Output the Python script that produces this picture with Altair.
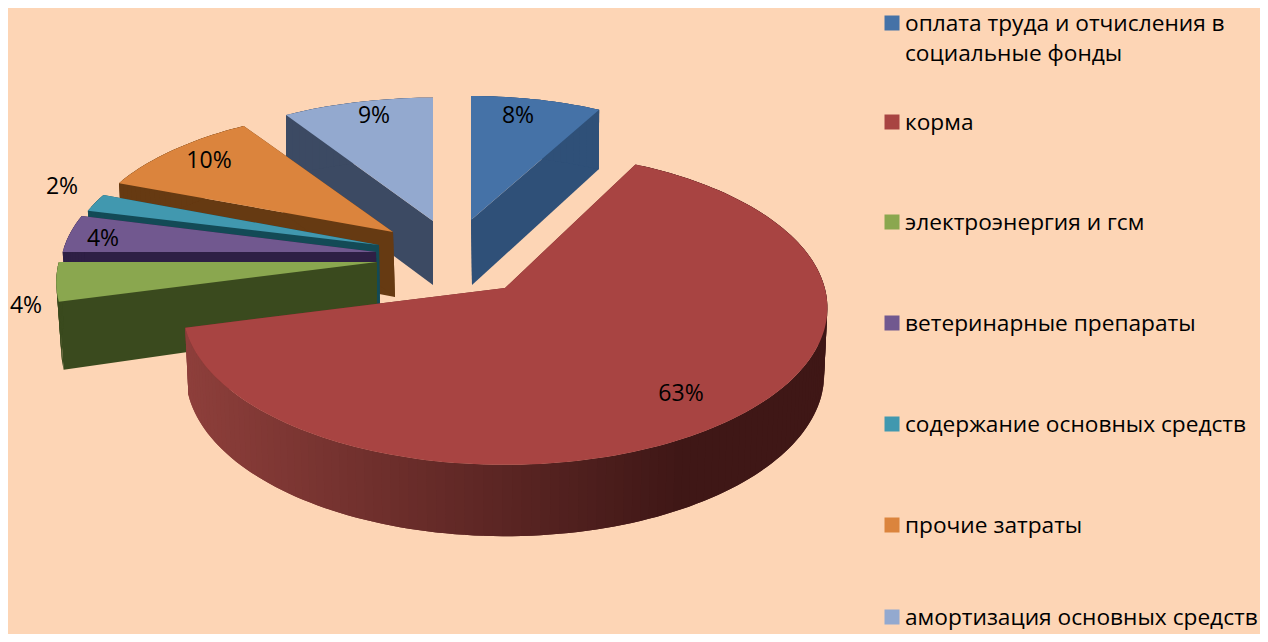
import math
import altair as alt
import pandas as pd

# ---- data ----
CATEGORIES = ["оплата труда и отчисления в\nсоциальные фонды", "корма", "электроэнергия и гсм",
              "ветеринарные препараты", "содержание основных средств", "прочие затраты",
              "амортизация основных средств"]
SHARES = [8, 63, 4, 4, 2, 10, 9]
TOP_COLORS = ["#4572a7", "#a84442", "#8aa74f", "#71588f", "#4198af", "#db843d", "#93a9cf"]
FACE_COLORS = ["#2f5078", "#6b2a29", "#3a4a1e", "#2e1f45", "#134a56", "#663a12", "#3c4a63"]

# ---- layout ----
W, H = 1252, 626
BG = "#fdd5b5"
FONT = "Open Sans"
RX, RY, P = 323.0, 154.4, 0.127
# top apex x,y, top scale x,y, bottom apex x,y, bottom scale x,y
GEOM = [
    (471, 220, .915, .905, 472, 285, .905, .95),
    (505, 288, .99, 1.0, 505, 354, .98, 1.03),
    (377, 262, .985, 1.0, 377, 325, .97, 1.13),
    (376, 252, .97, .97, 377, 316, .96, 1.0),
    (379, 245, .96, .92, 380, 310, .95, .95),
    (393, 232, .955, .90, 395, 297, .95, .95),
    (433, 221, .94, .90, 433, 285, .94, .925),
]
START_TWEAK = [0, -1.8, 0, 0, 0, 0, 0]
LABEL_OFFSET = [(47, -104), (176, 106), (-351, 44), (-273, -13), (-317, -58), (-184, -71), (-59, -105)]
LEGEND_Y = [24, 123, 223, 324, 425, 526, 618]
LEGEND_LINE = 30


def pt(a_deg, ax, ay, sx, sy):
    a = math.radians(a_deg)
    u, v = math.sin(a), math.cos(a)
    d = 1 + P * v
    return [ax + sx * RX * u / d, ay - sy * RY * v / d]


def mix(c1, c2, t):
    a = [int(c1[i:i + 2], 16) for i in (1, 3, 5)]
    b = [int(c2[i:i + 2], 16) for i in (1, 3, 5)]
    return "#%02x%02x%02x" % tuple(round(a[i] + (b[i] - a[i]) * t) for i in range(3))


def feature(points, color):
    return {"type": "Feature",
            "geometry": {"type": "Polygon", "coordinates": [points + [points[0]]]},
            "properties": {"fill": color}}


features = []
labels = []
angles = []
cum = 0
for s in SHARES:
    angles.append((cum * 3.6, (cum + s) * 3.6))
    cum += s

DRAW_ORDER = [0, 6, 5, 4, 3, 2, 1]
for i in DRAW_ORDER:
    ax, ay, sx, sy, bx, by, bsx, bsy = GEOM[i]
    a0, a1 = angles[i]
    a0 += START_TWEAK[i]
    for a in (a0, a1):
        features.append(feature([[ax, ay], pt(a, ax, ay, sx, sy), pt(a, bx, by, bsx, bsy), [bx, by]],
                                FACE_COLORS[i]))
    n = max(4, int((a1 - a0) / 1.5))
    steps = [a0 + (a1 - a0) * k / n for k in range(n + 1)]
    top = [[ax, ay]] + [pt(a, ax, ay, sx, sy) for a in steps]
    for k in range(n):
        p0 = pt(steps[k], ax, ay, sx, sy)
        upper = [pt(a, ax, ay, sx, sy) for a in steps[k:min(k + 3, n + 1)]]
        lower = [pt(a, bx, by, bsx, bsy) for a in steps[k:min(k + 3, n + 1)]]
        if i == 1:
            t = max(0.0, min(1.0, (p0[0] - 185) / 500))
            col = mix("#8e3f3b", "#3f1716", t)
        else:
            col = FACE_COLORS[i]
        features.append(feature(upper + lower[::-1], col))
    features.append(feature(top, TOP_COLORS[i]))

for i, s in enumerate(SHARES):
    labels.append({"t": f"{s}%", "px": GEOM[i][0] + LABEL_OFFSET[i][0], "py": GEOM[i][1] + LABEL_OFFSET[i][1]})

legend_marks = []
legend_text = []
for i, c in enumerate(CATEGORIES):
    legend_marks.append({"py": LEGEND_Y[i] - 1, "fill": TOP_COLORS[i]})
    for j, line in enumerate(c.split("\n")):
        legend_text.append({"t": line, "py": LEGEND_Y[i] + j * LEGEND_LINE})

xs = alt.Scale(domain=[8, 8 + W], range=[0, W])
ys = alt.Scale(domain=[8, 8 + H], range=[0, H])

pie = (
    alt.Chart(alt.InlineData(values={"type": "FeatureCollection", "features": features},
                             format=alt.DataFormat(property="features", type="json")))
    .mark_geoshape(strokeWidth=0)
    .encode(fill=alt.Fill("properties.fill:N", scale=None))
    .project(type="identity", scale=1, translate=[-8, -8])
)

value_labels = (
    alt.Chart(pd.DataFrame(labels))
    .mark_text(font=FONT, fontSize=23, color="#000000", align="center", baseline="middle")
    .encode(x=alt.X("px:Q", scale=xs, axis=None), y=alt.Y("py:Q", scale=ys, axis=None), text="t:N")
)

legend_sq = (
    alt.Chart(pd.DataFrame(legend_marks))
    .mark_square(size=225, opacity=1)
    .encode(x=alt.value(884), y=alt.Y("py:Q", scale=ys, axis=None),
            color=alt.Color("fill:N", scale=None))
)

legend_tx = (
    alt.Chart(pd.DataFrame(legend_text))
    .mark_text(font=FONT, fontSize=22.7, color="#000000", align="left", baseline="middle")
    .encode(x=alt.value(897), y=alt.Y("py:Q", scale=ys, axis=None), text="t:N")
)

chart = (
    alt.layer(pie, value_labels, legend_sq, legend_tx)
    .properties(width=W, height=H, background=BG, padding=0, autosize=alt.AutoSizeParams(type="none"))
    .configure_view(stroke=None)
)

chart.save("out.html", embed_options={"renderer": "svg", "actions": False})
